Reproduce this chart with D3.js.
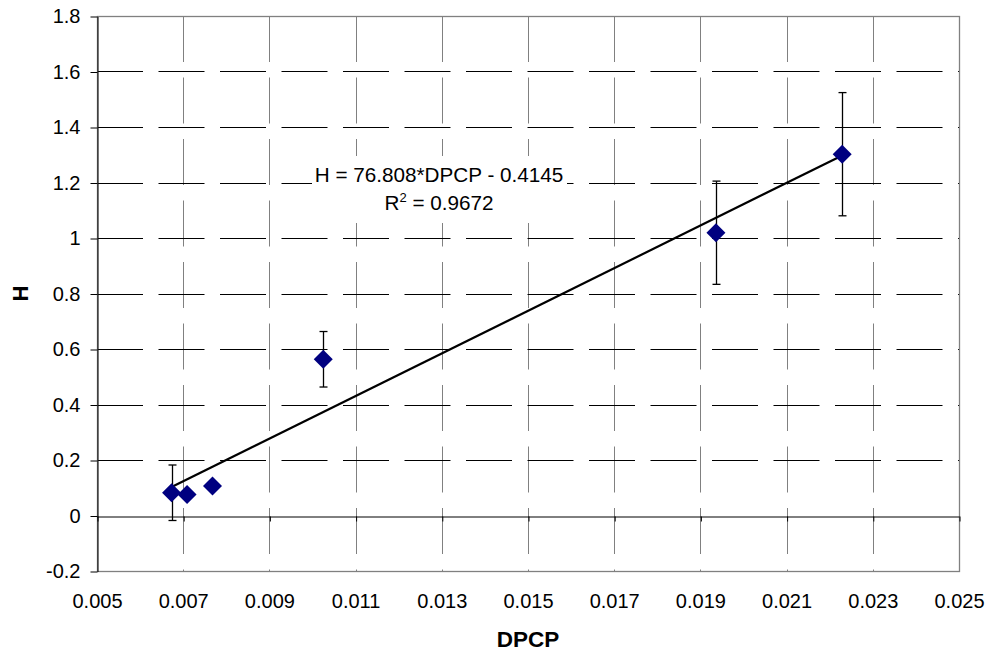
<!DOCTYPE html>
<html>
<head>
<meta charset="utf-8">
<script src="https://cdn.jsdelivr.net/npm/d3@7"></script>
<style>
  html, body { margin: 0; padding: 0; background: #fff; }
  svg { display: block; font-family: "Liberation Sans", Arial, sans-serif; }
</style>
</head>
<body>
<svg id="chart" width="989" height="653"></svg>
<script>
// ---- data ----
const dpcp    = [0.00673, 0.00709, 0.00768, 0.01025, 0.01936, 0.02229];
const hValues = [0.082, 0.076, 0.106, 0.563, 1.019, 1.302];
const hErrors = [0.100, 0.010, 0.010, 0.100, 0.186, 0.222];
const xTickValues = [0.005, 0.007, 0.009, 0.011, 0.013, 0.015, 0.017, 0.019, 0.021, 0.023, 0.025];
const xTickLabels = ["0.005", "0.007", "0.009", "0.011", "0.013", "0.015", "0.017", "0.019", "0.021", "0.023", "0.025"];
const yTickValues = [-0.2, 0, 0.2, 0.4, 0.6, 0.8, 1, 1.2, 1.4, 1.6, 1.8];
const yTickLabels = ["-0.2", "0", "0.2", "0.4", "0.6", "0.8", "1", "1.2", "1.4", "1.6", "1.8"];
const trendSlope = 76.808;
const trendIntercept = -0.4145;
const equationText = "H = 76.808*DPCP - 0.4145";
const r2Value = "0.9672";
const xTitle = "DPCP";
const yTitle = "H";

// ---- layout ----
const L = 97, R = 959, T = 16, B = 571;
const svg = d3.select("#chart");
const x = d3.scaleLinear().domain([0.005, 0.025]).range([L, R]);
const y = d3.scaleLinear().domain([-0.2, 1.8]).range([B, T]);
const dash = "46,15.5";

// vertical gridlines (gray dashed)
svg.append("g").selectAll("line")
  .data(xTickValues.filter(v => v > 0.0055 && v < 0.0245))
  .join("line")
  .attr("x1", d => Math.round(x(d)) + 0.5).attr("x2", d => Math.round(x(d)) + 0.5)
  .attr("y1", T).attr("y2", B)
  .attr("stroke", "#808080").attr("stroke-width", 1)
  .attr("stroke-dasharray", dash);

// horizontal gridlines (black dashed)
svg.append("g").selectAll("line")
  .data(yTickValues.filter(v => v > -0.15 && v < 1.75 && Math.abs(v) > 1e-9))
  .join("line")
  .attr("x1", L).attr("x2", R)
  .attr("y1", d => Math.round(y(d)) + 0.5).attr("y2", d => Math.round(y(d)) + 0.5)
  .attr("stroke", "#000").attr("stroke-width", 1)
  .attr("stroke-dasharray", dash);

// plot border (gray)
svg.append("rect")
  .attr("x", L + 0.5).attr("y", T + 0.5)
  .attr("width", R - L).attr("height", B - T)
  .attr("fill", "none").attr("stroke", "#808080").attr("stroke-width", 1.3);

// equation label background box (hides gridlines)
const eqX = 439;
svg.append("rect")
  .attr("x", 312).attr("y", 156).attr("width", 255).attr("height", 67)
  .attr("fill", "#fff");

// x axis (crosses at y = 0): domain line + ticks
const xAxis = d3.axisBottom(x).tickValues(xTickValues).tickSize(5).tickSizeOuter(0).tickFormat("");
const gx = svg.append("g").attr("transform", `translate(0.5,${Math.round(y(0)) + 0.5})`).call(xAxis);
gx.select(".domain").attr("stroke", "#000").attr("transform", "translate(-0.5,0)");
gx.selectAll(".tick line").attr("stroke", "#000");

// x tick labels at bottom
const xLab = d3.axisBottom(x).tickValues(xTickValues).tickSize(0).tickPadding(0)
  .tickFormat((d, i) => xTickLabels[i]);
const gxl = svg.append("g").attr("transform", `translate(0,${B})`).call(xLab);
gxl.select(".domain").remove();
gxl.selectAll("text").attr("font-size", 20).attr("fill", "#000")
  .attr("font-family", "'Liberation Sans', Arial, sans-serif")
  .attr("dy", null).attr("y", 37);

// y axis
const yAxis = d3.axisLeft(y).tickValues(yTickValues).tickSize(7).tickSizeOuter(0).tickPadding(10)
  .tickFormat((d, i) => yTickLabels[i]);
const gy = svg.append("g").attr("transform", `translate(${L + 0.5},0.5)`).call(yAxis);
gy.select(".domain").attr("stroke", "#000");
gy.selectAll(".tick line").attr("stroke", "#000");
gy.selectAll("text").attr("font-size", 20).attr("fill", "#000")
  .attr("font-family", "'Liberation Sans', Arial, sans-serif");

// trendline
const xMin = d3.min(dpcp), xMax = d3.max(dpcp);
svg.append("line")
  .attr("x1", x(xMin)).attr("y1", y(trendSlope * xMin + trendIntercept))
  .attr("x2", x(xMax)).attr("y2", y(trendSlope * xMax + trendIntercept))
  .attr("stroke", "#000").attr("stroke-width", 2.2);

// error bars
const pts = dpcp.map((d, i) => ({ x: d, y: hValues[i], e: hErrors[i] }));
const eb = svg.append("g").attr("stroke", "#000").attr("stroke-width", 1.3);
pts.forEach(p => {
  const cx = Math.round(x(p.x)) + 0.5;
  eb.append("line").attr("x1", cx).attr("x2", cx).attr("y1", y(p.y + p.e)).attr("y2", y(p.y - p.e));
  eb.append("line").attr("x1", cx - 4).attr("x2", cx + 4).attr("y1", y(p.y + p.e)).attr("y2", y(p.y + p.e));
  eb.append("line").attr("x1", cx - 4).attr("x2", cx + 4).attr("y1", y(p.y - p.e)).attr("y2", y(p.y - p.e));
});

// diamond markers
const s = 9.5;
svg.append("g").selectAll("path").data(pts).join("path")
  .attr("d", p => {
    const cx = x(p.x), cy = y(p.y);
    return `M${cx},${cy - s}L${cx + s},${cy}L${cx},${cy + s}L${cx - s},${cy}Z`;
  })
  .attr("fill", "#000080");

// equation text
svg.append("text").attr("x", eqX).attr("y", 182).attr("text-anchor", "middle")
  .attr("font-size", 20.7).attr("fill", "#000").text(equationText);
const r2 = svg.append("text").attr("x", eqX).attr("y", 209.5).attr("text-anchor", "middle")
  .attr("font-size", 20.7).attr("fill", "#000");
r2.append("tspan").text("R");
r2.append("tspan").attr("font-size", 13).attr("dy", -8).text("2");
r2.append("tspan").attr("dy", 8).text(" = " + r2Value);

// axis titles
svg.append("text").attr("x", (L + R) / 2).attr("y", 647).attr("text-anchor", "middle")
  .attr("font-size", 22.5).attr("font-weight", "bold").attr("fill", "#000").text(xTitle);
svg.append("text").attr("transform", `translate(28,${(T + B) / 2}) rotate(-90)`)
  .attr("text-anchor", "middle")
  .attr("font-size", 22).attr("font-weight", "bold").attr("fill", "#000").text(yTitle);
</script>
</body>
</html>
